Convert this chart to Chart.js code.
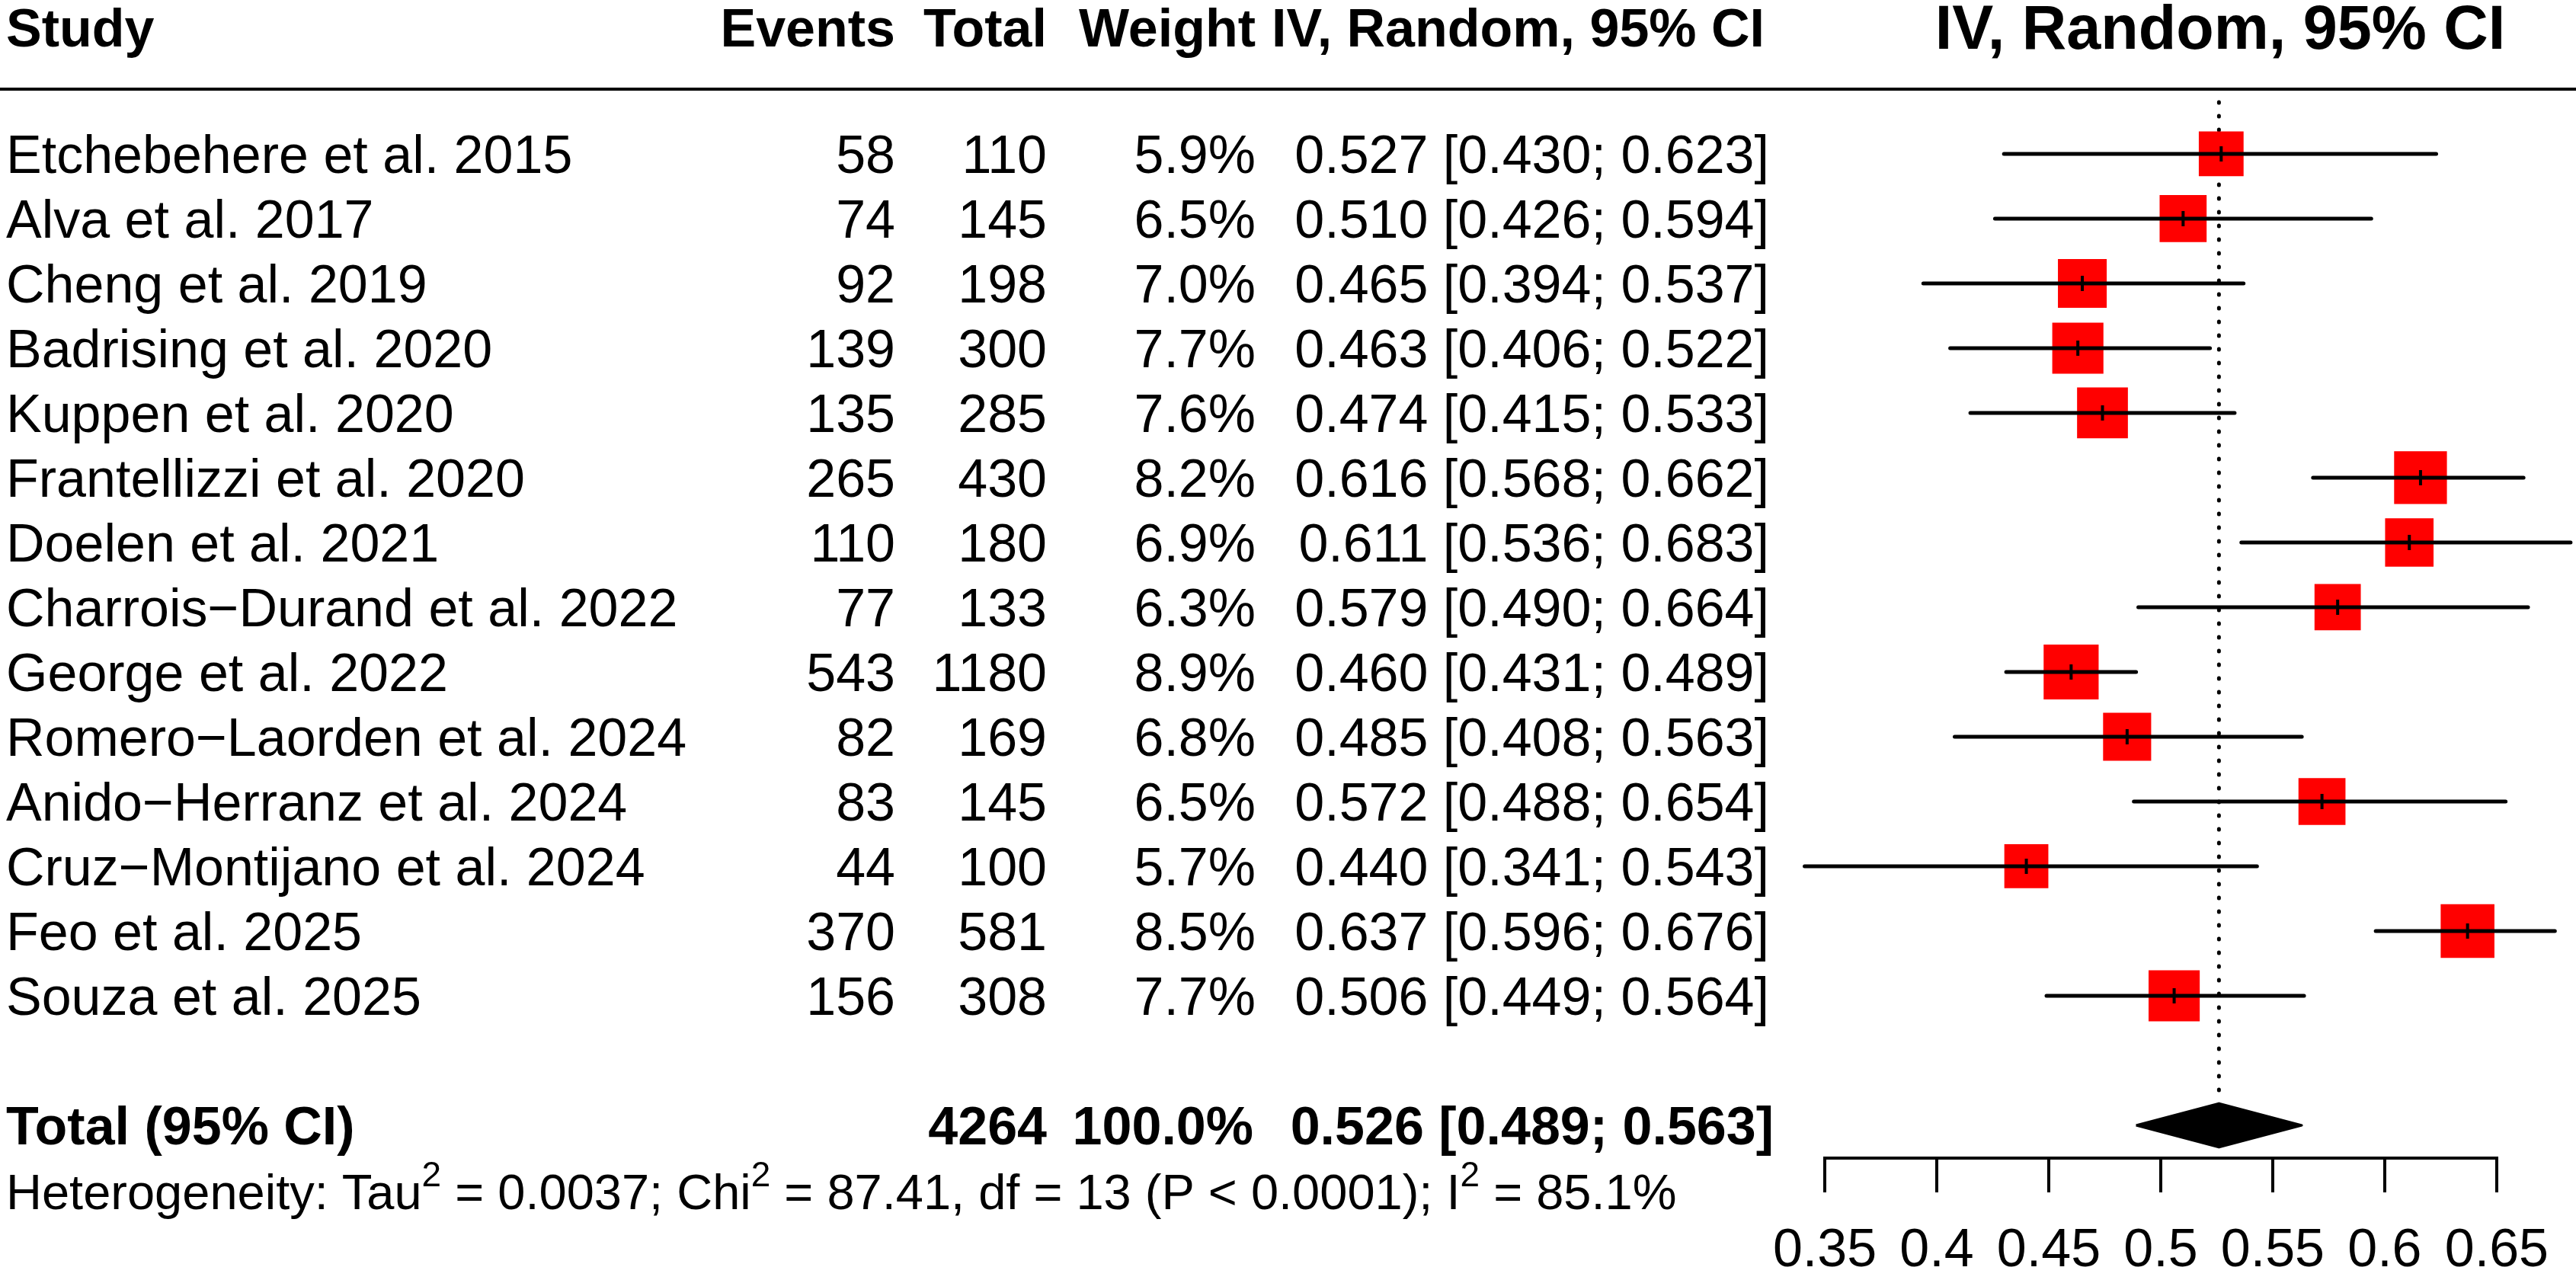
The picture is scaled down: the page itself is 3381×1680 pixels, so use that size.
<!DOCTYPE html>
<html>
<head>
<meta charset="utf-8">
<script src="https://cdn.jsdelivr.net/npm/chart.js@4/dist/chart.umd.min.js"></script>
<style>
  html, body { margin: 0; padding: 0; background: #fff; }
  #wrap { width: 3381px; height: 1680px; }
</style>
</head>
<body>
<div id="wrap"><canvas id="forest"></canvas></div>
<script>
// Forest plot: proportions, random effects model

const studies = [
    'Etchebehere et al. 2015',
    'Alva et al. 2017',
    'Cheng et al. 2019',
    'Badrising et al. 2020',
    'Kuppen et al. 2020',
    'Frantellizzi et al. 2020',
    'Doelen et al. 2021',
    'Charrois\u2212Durand et al. 2022',
    'George et al. 2022',
    'Romero\u2212Laorden et al. 2024',
    'Anido\u2212Herranz et al. 2024',
    'Cruz\u2212Montijano et al. 2024',
    'Feo et al. 2025',
    'Souza et al. 2025'
];
const events  = [58, 74, 92, 139, 135, 265, 110, 77, 543, 82, 83, 44, 370, 156];
const totals  = [110, 145, 198, 300, 285, 430, 180, 133, 1180, 169, 145, 100, 581, 308];
const weights = [5.9, 6.5, 7.0, 7.7, 7.6, 8.2, 6.9, 6.3, 8.9, 6.8, 6.5, 5.7, 8.5, 7.7];
const estimates = [0.527, 0.510, 0.465, 0.463, 0.474, 0.616, 0.611, 0.579, 0.460, 0.485, 0.572, 0.440, 0.637, 0.506];
const lower     = [0.430, 0.426, 0.394, 0.406, 0.415, 0.568, 0.536, 0.490, 0.431, 0.408, 0.488, 0.341, 0.596, 0.449];
const upper     = [0.623, 0.594, 0.537, 0.522, 0.533, 0.662, 0.683, 0.664, 0.489, 0.563, 0.654, 0.543, 0.676, 0.564];

const pooled = [0.526, 0.489, 0.563];   // estimate, lower, upper
const pooledTotal = 4264;
const pooledWeight = '100.0%';
const xTicks = [0.35, 0.4, 0.45, 0.5, 0.55, 0.6, 0.65];
const xTickLabels = ['0.35', '0.4', '0.45', '0.5', '0.55', '0.6', '0.65'];

// layout (rows are counted from the header line downwards)
const FONT = '"Liberation Sans", Arial, Helvetica, sans-serif';
const n = studies.length;
const rowOf = i => i + 1;
const totalRow = n + 2;
const hetRow = n + 3;
const headerRow = -1;
const col = { study: 8, events: 1175, total: 1374, weight: 1648, ci: 2322, plot: 2914 };

const fmt = v => v.toFixed(3);

// one line dataset per confidence interval
const ciSets = studies.map((s, i) => ({
    data: [{ x: lower[i], y: rowOf(i) }, { x: upper[i], y: rowOf(i) }],
    showLine: true,
    borderColor: '#000',
    borderWidth: 5,
    borderCapStyle: 'round',
    pointRadius: 0,
    clip: false,
    order: 1
}));

const datasets = [
    {
        // point estimate marks
        data: estimates.map((v, i) => ({ x: v, y: rowOf(i) })),
        pointStyle: 'line',
        pointRotation: 90,
        pointRadius: 10,
        pointBorderWidth: 4,
        pointBorderColor: '#000',
        clip: false,
        order: 0
    },
    ...ciSets,
    {
        // weighted squares
        data: estimates.map((v, i) => ({ x: v, y: rowOf(i) })),
        pointStyle: 'rect',
        pointRadius: ctx => 24.2 * Math.sqrt(weights[ctx.dataIndex]) / Math.SQRT2,
        pointBackgroundColor: '#ff0000',
        pointBorderWidth: 0,
        clip: false,
        order: 2
    },
    {
        // pooled diamond
        data: [
            { x: pooled[1], y: totalRow },
            { x: pooled[0], y: totalRow - 0.34 },
            { x: pooled[2], y: totalRow },
            { x: pooled[0], y: totalRow + 0.34 },
            { x: pooled[1], y: totalRow }
        ],
        showLine: true,
        fill: 'shape',
        backgroundColor: '#000',
        borderColor: '#000',
        borderWidth: 3,
        borderJoinStyle: 'round',
        pointRadius: 0,
        clip: false,
        order: 1
    },
    {
        // reference line at the pooled estimate
        data: [{ x: pooled[0], y: 0.2 }, { x: pooled[0], y: n + 1.56 }],
        showLine: true,
        borderColor: '#000',
        borderWidth: 5,
        borderDash: [1, 17],
        borderCapStyle: 'round',
        pointRadius: 0,
        clip: false,
        order: 3
    }
];

function put(ctx, s, x, y, align, bold, size) {
    ctx.font = (bold ? 'bold ' : '') + (size || 70) + 'px ' + FONT;
    ctx.textAlign = align;
    ctx.fillText(s, x, y);
    return ctx.measureText(s).width;
}

const tablePlugin = {
    id: 'table',
    afterDraw(chart) {
        const ctx = chart.ctx;
        const y = chart.scales.y;
        const base = r => y.getPixelForValue(r) + 25;
        ctx.save();
        ctx.fillStyle = '#000';
        ctx.textBaseline = 'alphabetic';

        // header
        const hy = base(headerRow) + 4;
        put(ctx, 'Study', col.study, hy, 'left', true);
        put(ctx, 'Events', col.events, hy, 'right', true);
        put(ctx, 'Total', col.total, hy, 'right', true);
        put(ctx, 'Weight', col.weight, hy, 'right', true);
        put(ctx, 'IV, Random, 95% CI', col.ci - 6, hy, 'right', true);
        put(ctx, 'IV, Random, 95% CI', col.plot, hy + 3, 'center', true, 81);

        ctx.strokeStyle = '#000';
        ctx.lineWidth = 4;
        ctx.beginPath();
        ctx.moveTo(0, y.getPixelForValue(0));
        ctx.lineTo(chart.width, y.getPixelForValue(0));
        ctx.stroke();

        // study rows
        studies.forEach((s, i) => {
            const by = base(rowOf(i));
            put(ctx, s, col.study, by, 'left');
            put(ctx, String(events[i]), col.events, by, 'right');
            put(ctx, String(totals[i]), col.total, by, 'right');
            put(ctx, weights[i].toFixed(1) + '%', col.weight, by, 'right');
            put(ctx, fmt(estimates[i]) + ' [' + fmt(lower[i]) + '; ' + fmt(upper[i]) + ']', col.ci, by, 'right');
        });

        // total row
        const ty = base(totalRow);
        put(ctx, 'Total (95% CI)', col.study, ty, 'left', true);
        put(ctx, String(pooledTotal), col.total, ty, 'right', true);
        put(ctx, pooledWeight, col.weight - 3, ty, 'right', true);
        put(ctx, fmt(pooled[0]) + ' [' + fmt(pooled[1]) + '; ' + fmt(pooled[2]) + ']', col.ci + 6, ty, 'right', true);

        // heterogeneity line with superscripts
        const parts = [
            ['Heterogeneity: Tau', false], ['2', true],
            [' = 0.0037; Chi', false], ['2', true],
            [' = 87.41, df = 13 (P < 0.0001); I', false], ['2', true],
            [' = 85.1%', false]
        ];
        let x = col.study;
        const hb = base(hetRow);
        parts.forEach(([s, sup]) => {
            x += sup ? put(ctx, s, x, hb - 30, 'left', false, 46)
                     : put(ctx, s, x, hb, 'left', false, 65);
        });
        ctx.restore();
    }
};

new Chart(document.getElementById('forest'), {
    type: 'scatter',
    data: { datasets },
    options: {
        responsive: true,
        maintainAspectRatio: false,
        animation: false,
        events: [],
        layout: { autoPadding: false, padding: { left: 2395, right: 104, top: 0, bottom: 0 } },
        plugins: { legend: { display: false }, tooltip: { enabled: false } },
        scales: {
            x: {
                type: 'linear',
                min: 0.35,
                max: 0.65,
                afterBuildTicks: s => { s.ticks = xTicks.map(v => ({ value: v })); },
                afterFit: s => { s.height = 160; },
                border: { display: true, color: '#000', width: 4 },
                grid: {
                    drawOnChartArea: false,
                    drawTicks: true,
                    tickLength: 45,
                    color: '#000',
                    lineWidth: 4
                },
                ticks: {
                    autoSkip: false,
                    maxRotation: 0,
                    padding: 36,
                    color: '#000',
                    font: { family: FONT, size: 70 },
                    callback: (v, i) => xTickLabels[i]
                }
            },
            y: {
                type: 'linear',
                display: false,
                reverse: true,
                bounds: 'data',
                min: -1.376,
                max: 16.506,
                afterBuildTicks: s => { s.ticks = []; }
            }
        }
    },
    plugins: [tablePlugin]
});
</script>
</body>
</html>
